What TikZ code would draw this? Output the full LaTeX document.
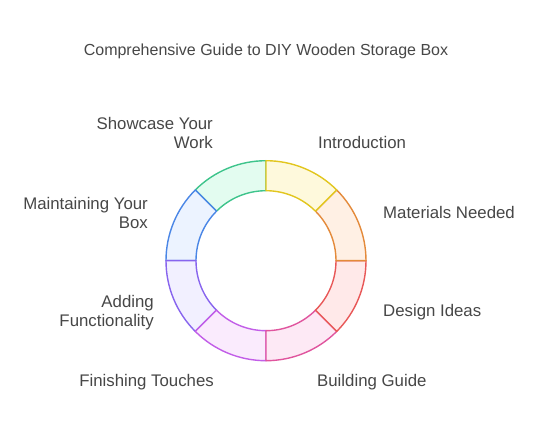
\documentclass[tikz,border=0pt]{standalone}
\usepackage{fontspec}
\setmainfont{Liberation Sans}
\definecolor{txt}{HTML}{474747}
\definecolor{yS}{HTML}{E2C61E}\definecolor{yF}{HTML}{FEF9DC}
\definecolor{oS}{HTML}{E48A3A}\definecolor{oF}{HTML}{FFF0E4}
\definecolor{rS}{HTML}{E85858}\definecolor{rF}{HTML}{FFE9E9}
\definecolor{pS}{HTML}{E0559E}\definecolor{pF}{HTML}{FDE9F5}
\definecolor{mS}{HTML}{C25EE8}\definecolor{mF}{HTML}{FAEBFD}
\definecolor{vS}{HTML}{8865EE}\definecolor{vF}{HTML}{F2F0FF}
\definecolor{bS}{HTML}{4A86E6}\definecolor{bF}{HTML}{ECF3FF}
\definecolor{gS}{HTML}{3EC48C}\definecolor{gF}{HTML}{E3FCF0}
\begin{document}
\begin{tikzpicture}[x=1pt,y=1pt,
  lbl/.style={font=\fontsize{16.8}{19}\selectfont, text=txt, inner sep=0pt},
  lblL/.style={lbl, anchor=west, align=left},
  lblR/.style={lbl, anchor=east, align=right},
  seg/.style={line width=1.4pt, line join=round}]
\useasboundingbox[fill=white] (0,0) rectangle (542,432);
\coordinate (c) at (266,171.3);
\newcommand{\ringseg}[4]{%
  \draw[seg, draw=#3, fill=#4] ([shift={(#1:100)}]c) arc[start angle=#1, end angle=#2, radius=100]
    -- ([shift={(#2:70)}]c) arc[start angle=#2, end angle=#1, radius=70] -- cycle;}
\ringseg{135}{90}{gS}{gF}
\ringseg{180}{135}{bS}{bF}
\ringseg{225}{180}{vS}{vF}
\ringseg{270}{225}{mS}{mF}
\ringseg{315}{270}{pS}{pF}
\ringseg{360}{315}{rS}{rF}
\ringseg{45}{0}{oS}{oF}
\ringseg{90}{45}{yS}{yF}
\node[lbl, font=\fontsize{16}{19}\selectfont] (title) at (266,381) {Comprehensive Guide to DIY Wooden Storage Box};
\node[lblL] (intro) at (318,290) {Introduction};
\node[lblL] (mat) at (383,220) {Materials Needed};
\node[lblL] (des) at (383,120) {Design Ideas};
\node[lblL] (bld) at (317,50) {Building Guide};
\node[lblR] (fin) at (214,50) {Finishing Touches};
\node[lblR] (add) at (154,119.5) {Adding\\Functionality};
\node[lblR] (mnt) at (148,219.5) {Maintaining Your\\Box};
\node[lblR] (shw) at (213,299.5) {Showcase Your\\Work};
\end{tikzpicture}
\end{document}
